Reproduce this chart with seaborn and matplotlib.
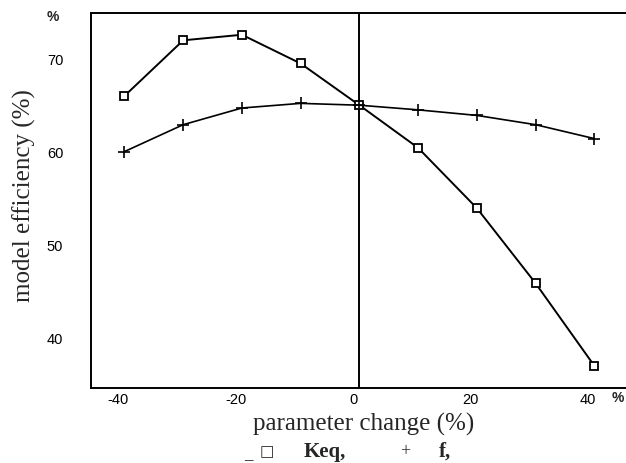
import matplotlib
matplotlib.use("Agg")
import matplotlib.pyplot as plt
import matplotlib.transforms as mtransforms
import seaborn as sns
import pandas as pd

# ---- data ----
param_change = [-40, -30, -20, -10, 0, 10, 20, 30, 40]
keq_eff = [66.0, 72.0, 72.6, 69.5, 65.0, 60.4, 53.9, 45.8, 36.9]
f_eff = [60.0, 62.9, 64.7, 65.2, 65.0, 64.5, 63.9, 62.9, 61.4]
xtick_vals = [-40, -30, -20, -10, 0, 10, 20, 30, 40]
xtick_labels = ["-40", "", "-20", "", "0", "", "20", "", "40"]
ytick_vals = [40, 45, 50, 55, 60, 65, 70]
ytick_labels = ["40", "", "50", "", "60", "", "70"]

df = pd.DataFrame({
    "x": param_change * 2,
    "y": keq_eff + f_eff,
    "series": ["Keq"] * len(param_change) + ["f"] * len(param_change),
})

sns.set_style("white")
plt.rcParams["font.family"] = ["Liberation Serif", "DejaVu Sans"]

fig = plt.figure(figsize=(6.26, 4.64), dpi=100)
ax = fig.add_axes([91 / 626, 75 / 464, 535 / 626, (389 - 13.5) / 464])

sns.lineplot(data=df[df.series == "Keq"], x="x", y="y", ax=ax, color="black",
             lw=1.4, marker="s", markersize=6, markerfacecolor="white",
             markeredgecolor="black", markeredgewidth=1.3, legend=False)
sns.lineplot(data=df[df.series == "f"], x="x", y="y", ax=ax, color="black",
             lw=1.2, marker="+", markersize=8, markeredgewidth=1.2,
             markeredgecolor="black", legend=False)

ax.axvline(0, color="black", lw=1.4, zorder=0)

ax.set_xlim(-45.7, 45.4)
ax.set_ylim(34.5, 75.0)

for s in ["left", "top", "bottom"]:
    ax.spines[s].set_visible(True)
    ax.spines[s].set_color("black")
    ax.spines[s].set_linewidth(1.4)
ax.spines["right"].set_visible(False)

tick_font = dict(family=["Liberation Sans"], fontsize=10.5)
ax.set_xticks(xtick_vals)
ax.set_xticklabels(xtick_labels, **tick_font)
ax.set_yticks(ytick_vals)
ax.set_yticklabels(ytick_labels, **tick_font)
ax.tick_params(axis="both", direction="in", length=6, width=1.2, colors="black")
ax.tick_params(axis="x", pad=3)
ax.tick_params(axis="y", pad=20)

# shift x tick labels slightly left as in reference
off = mtransforms.ScaledTranslation(-6 / 100, 0, fig.dpi_scale_trans)
for lab in ax.get_xticklabels():
    lab.set_transform(lab.get_transform() + off)

ax.set_xlabel("parameter change (%)", fontsize=18)
ax.set_ylabel("model efficiency (%)", fontsize=18)
ax.xaxis.set_label_coords((363.5 - 91) / 535, (389 - 413) / 375.5)
ax.yaxis.set_label_coords((36 - 91) / 535, (389 - 196) / 375.5)

# corner unit labels
fig.text(53 / 626, 1 - 17 / 464, "%", family=["Liberation Sans"], fontsize=10,
         fontweight="bold", ha="center", va="center")
fig.text(618 / 626, 1 - 398 / 464, "%", family=["Liberation Sans"], fontsize=10,
         fontweight="bold", ha="center", va="center")

# legend row
ly = 1 - 452 / 464
fig.text(248 / 626, 1 - 455 / 464, "_", fontsize=12, fontweight="bold",
         ha="center", va="center")
fig.text(267 / 626, ly, "\u25a1", family=["DejaVu Sans"], fontsize=11,
         ha="center", va="center")
fig.text(325 / 626, ly, "Keq,", fontsize=15, fontweight="bold",
         ha="center", va="center")
fig.text(405 / 626, ly, "+", fontsize=13, ha="center", va="center")
fig.text(445 / 626, ly, "f,", fontsize=15, fontweight="bold",
         ha="center", va="center")

fig.savefig("out.png", dpi=100)
